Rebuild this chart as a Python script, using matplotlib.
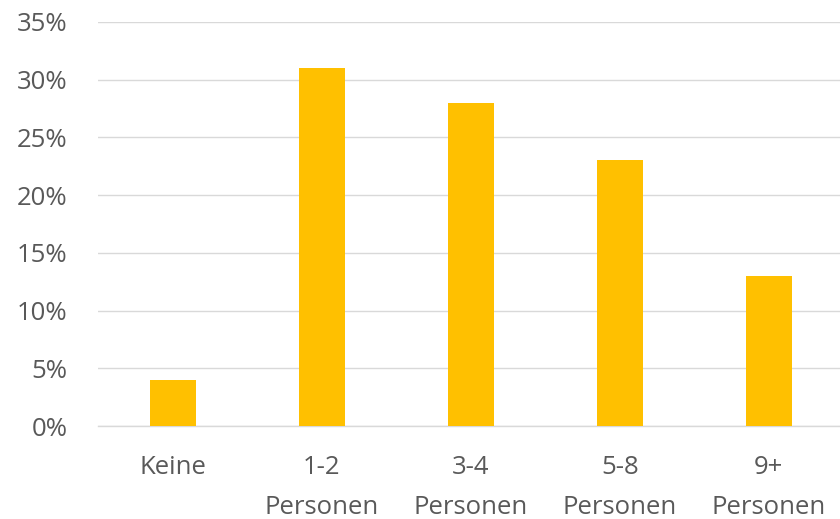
import matplotlib
matplotlib.use("Agg")
import matplotlib.pyplot as plt
from matplotlib.ticker import FuncFormatter

categories = ["Keine", "1-2\nPersonen", "3-4\nPersonen", "5-8\nPersonen", "9+\nPersonen"]
values = [4, 31, 28, 23, 13]
yticks = [0, 5, 10, 15, 20, 25, 30, 35]

plt.rcParams['font.family'] = ['Open Sans', 'DejaVu Sans']

fig = plt.figure(figsize=(8.4, 5.19), dpi=100)
ax = fig.add_axes([0.117, 0.179, 0.887, 0.779])

ax.bar(range(len(categories)), values, width=0.31, color='#FFC000', zorder=3)

ax.set_xlim(-0.5, len(categories) - 0.5)
ax.set_ylim(0, 35)
ax.set_yticks(yticks)
ax.yaxis.set_major_formatter(FuncFormatter(lambda v, p: f"{v:.0f}%"))
ax.set_xticks(range(len(categories)))
ax.set_xticklabels(categories, linespacing=1.75)

ax.grid(axis='y', color='#D9D9D9', linewidth=1, zorder=0)
for s in ['top', 'right', 'left']:
    ax.spines[s].set_visible(False)
ax.spines['bottom'].set_color('#D9D9D9')
ax.spines['bottom'].set_linewidth(1)
ax.tick_params(axis='both', length=0, labelsize=18.5, colors='#595959')
ax.tick_params(axis='x', pad=21)
ax.tick_params(axis='y', pad=22)

fig.savefig("out.png", dpi=100)
